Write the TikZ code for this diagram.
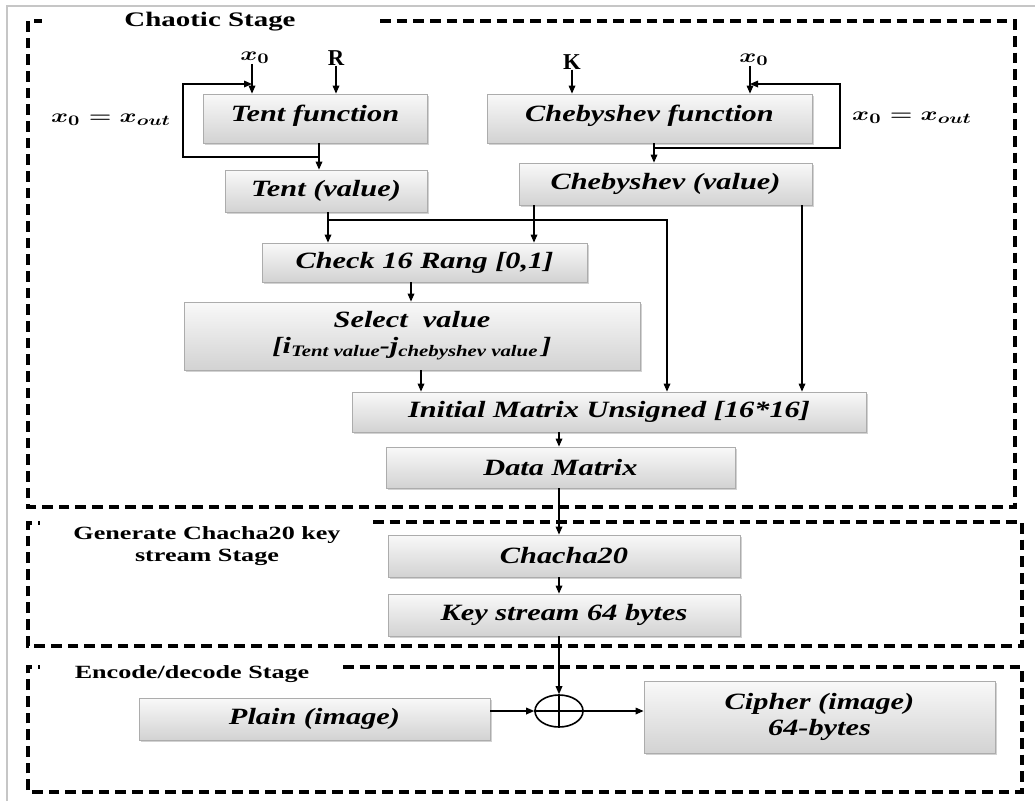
\documentclass[tikz,border=0pt]{standalone}
\usepackage{fontspec}
\usepackage{amsmath,bm,graphicx}
\setmainfont{Liberation Serif}
\newfontfamily\boxfont[FakeStretch=1.3]{Liberation Serif}
\newfontfamily\titlefont[FakeStretch=1.4]{Liberation Serif}
\usetikzlibrary{shadows,arrows.meta,shapes.geometric}

% lowered, smaller text used as a subscript inside box labels
\newcommand\lowtxt[1]{\raisebox{-0.35ex}{\fontsize{12}{12}\selectfont #1}}
% gray block given by its corner coordinates
\newcommand\blkbox[6]{\node[blk, minimum width={(#4-#2)*0.75pt}, minimum height={(#5-#3)*0.75pt}] (#1) at ({(#2+#4)/2},{(#3+#5)/2}) {#6};}
% bold math label, widened
\newcommand\mlabel[1]{\scalebox{1.35}[1]{\boldmath$#1$}}

\tikzset{
  blk/.style={draw=gray!65, line width=0.6pt, top color=gray!5, bottom color=gray!35,
    drop shadow={shadow xshift=1.5pt, shadow yshift=-1.5pt, opacity=0.35, fill=gray},
    inner sep=0pt, align=center,
    font=\boxfont\bfseries\itshape\fontsize{17.5}{19}\selectfont},
  stage/.style={line width=2.3pt, dash pattern=on 8pt off 4.5pt},
  arr/.style={-{Triangle[length=6pt,width=5pt]}, line width=0.9pt},
  ln/.style={line width=0.9pt},
  ttl/.style={font=\titlefont\bfseries\fontsize{14}{17}\selectfont, align=center, inner sep=0pt},
  lbl/.style={inner sep=0pt, font=\fontsize{15}{15}\selectfont}
}

\begin{document}
\begin{tikzpicture}[x=0.75pt,y=-0.75pt]
\useasboundingbox (0,0) rectangle (1035,801);
\fill[white] (0,0) rectangle (1035,801);

% thin outer frame
\draw[gray!45, line width=1.4pt] (7,801) -- (7,6) -- (1035,6);

% stage frames
\draw[stage] (380,21) -- (1015,21) -- (1015,507) -- (28,507) -- (28,21) -- (42,21);
\draw[stage] (373,522) -- (1022,522) -- (1022,646) -- (28,646) -- (28,523) -- (40,523);
\draw[stage] (343,667) -- (1022,667) -- (1022,792) -- (28,792) -- (28,667) -- (40,667);

% stage titles
\node[ttl, font=\titlefont\bfseries\fontsize{15.5}{17}\selectfont] (tchaos) at (210,22) {Chaotic Stage};
\node[ttl] (tgen) at (207,546) {Generate Chacha20 key\\stream Stage};
\node[ttl] (tenc) at (192,674) {Encode/decode Stage};

% blocks
\blkbox{tentf}{203}{94}{427}{143}{\raisebox{8pt}{Tent function}}
\blkbox{tentv}{225}{170}{427}{212}{Tent (value)}
\blkbox{chebf}{487}{94}{812}{143}{\raisebox{8pt}{Chebyshev function}}
\blkbox{chebv}{519}{163}{812}{205}{Chebyshev (value)}
\blkbox{check}{262}{243}{587}{282}{Check 16 Rang [0,1]}
\blkbox{sel}{184}{302}{640}{370}{Select\ \ value\\{}{[}i\lowtxt{Tent value}-j\lowtxt{chebyshev value}\,{]}}
\blkbox{init}{352}{392}{866}{432}{Initial Matrix Unsigned [16*16]}
\blkbox{data}{386}{447}{735}{488}{Data Matrix}
\blkbox{chacha}{388}{535}{740}{577}{Chacha20}
\blkbox{keys}{388}{594}{740}{636}{Key stream 64 bytes}
\blkbox{plain}{139}{698}{490}{740}{Plain (image)}
\blkbox{cipher}{644}{681}{995}{753}{Cipher (image)\\64-bytes}

% XOR
\node[draw, ellipse, line width=1.2pt, minimum width=36pt, minimum height=24pt, inner sep=0pt] (xor) at (559,711) {};
\draw[ln] (xor.north) -- (xor.south);
\draw[ln] (xor.west) -- (xor.east);

% inputs
\node[lbl] (x0a) at (255,58) {\mlabel{x_0}};
\node[lbl, font=\bfseries\fontsize{17}{17}\selectfont] (rin) at (336,58) {R};
\node[lbl, font=\bfseries\fontsize{17}{17}\selectfont] (kin) at (572,62) {K};
\node[lbl] (x0b) at (754,60) {\mlabel{x_0}};
\node[lbl] (fba) at (111,120) {\mlabel{x_0 = x_{out}}};
\node[lbl] (fbb) at (912,118) {\mlabel{x_0 = x_{out}}};

\coordinate (xa) at (252,70);
\coordinate (xb) at (750,70);
\draw[arr] (x0a.south -| xa) -- (tentf.north -| xa);
\draw[arr] (rin.south) -- (tentf.north -| rin);
\draw[arr] (kin.south) -- (chebf.north -| kin);
\draw[arr] (x0b.south -| xb) -- (chebf.north -| xb);

% tent feedback loop
\coordinate (tj) at (319,157);
\coordinate (tl1) at (183,157);
\coordinate (tl2) at (183,84);
\draw[arr] (tentf.south -| tj) -- (tentv.north -| tj);
\draw[arr] (tj) -- (tl1) -- (tl2) -- (tl2 -| xa);

% chebyshev feedback loop
\coordinate (cj) at (654,148);
\coordinate (cr1) at (840,148);
\coordinate (cr2) at (840,84);
\draw[arr] (chebf.south -| cj) -- (chebv.north -| cj);
\draw[arr] (cj) -- (cr1) -- (cr2) -- (cr2 -| xb);

% values into check / matrix
\coordinate (c1) at (328,220);
\coordinate (c2) at (667,220);
\coordinate (c3) at (534,230);
\coordinate (c4) at (802,230);
\draw[ln] (tentv.south -| c1) -- (c1);
\draw[arr] (c1) -- (check.north -| c1);
\draw[arr] (c1) -- (c2) -- (init.north -| c2);
\draw[arr] (chebv.south -| c3) -- (check.north -| c3);
\draw[arr] (chebv.south -| c4) -- (init.north -| c4);

% main chain
\coordinate (c5) at (411,290);
\coordinate (c6) at (421,380);
\coordinate (c7) at (559,440);
\draw[arr] (check.south -| c5) -- (sel.north -| c5);
\draw[arr] (sel.south -| c6) -- (init.north -| c6);
\draw[arr] (init.south -| c7) -- (data.north -| c7);
\draw[arr] (data.south -| c7) -- (chacha.north -| c7);
\draw[arr] (chacha.south -| c7) -- (keys.north -| c7);
\draw[arr] (keys.south -| xor) -- (xor.north);
\draw[arr] (plain.east |- xor) -- (xor.west);
\draw[arr] (xor.east) -- (cipher.west |- xor);
\end{tikzpicture}
\end{document}
